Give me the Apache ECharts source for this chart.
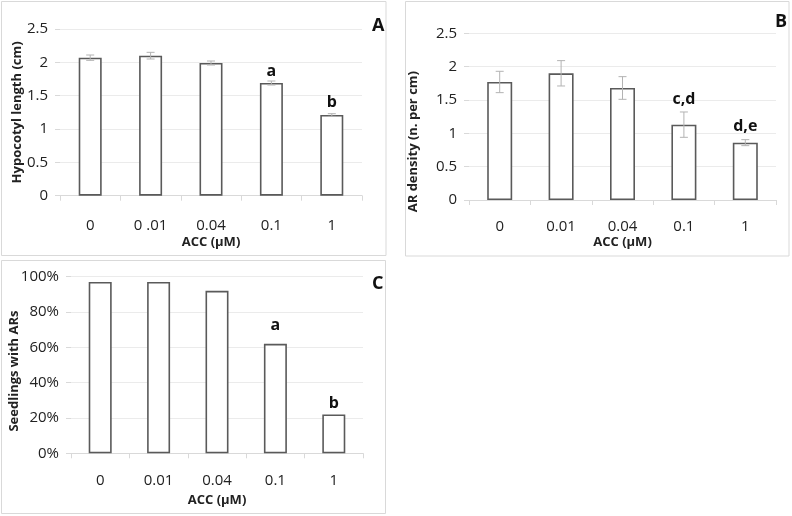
<!DOCTYPE html>
<html>
<head>
<meta charset="utf-8">
<script src="https://cdn.jsdelivr.net/npm/echarts@6/dist/echarts.min.js"></script>
<style>html,body{margin:0;padding:0;background:#fff}#c{width:792px;height:516px}</style>
</head>
<body>
<div id="c"></div>
<script>
// ---- data ----
var catsA = ['0', '0 .01', '0.04', '0.1', '1'];
var catsB = ['0', '0.01', '0.04', '0.1', '1'];
var catsC = ['0', '0.01', '0.04', '0.1', '1'];

var hypocotyl = [2.07, 2.10, 1.99, 1.69, 1.21];
var hypocotylErr = [0.04, 0.05, 0.03, 0.03, 0.02];
var lettersA = ['', '', '', 'a', 'b'];
var letterPosA = [null, null, null, 1.86, 1.40];

var arDensity = [1.77, 1.90, 1.68, 1.13, 0.86];
var arDensityErr = [0.16, 0.19, 0.17, 0.19, 0.045];
var lettersB = ['', '', '', 'c,d', 'd,e'];
var letterPosB = [null, null, null, 1.51, 1.10];

var seedlingsPct = [97, 97, 92, 62, 22];
var lettersC = ['', '', '', 'a', 'b'];
var letterPosC = [null, null, null, 72.5, 28];

var ticksA = [0, 0.5, 1, 1.5, 2, 2.5];
var ticksC = [0, 20, 40, 60, 80, 100];

// ---- styles ----
var FONT = "'Open Sans', 'Noto Sans', sans-serif";
var gridLineColor = '#ebebeb';
var axisColor = '#d9d9d9';

function xAxis(idx, cats, margin, gap) {
  return {
    type: 'category', gridIndex: idx, data: cats,
    name: 'ACC (\u00b5M)', nameLocation: 'middle', nameGap: gap,
    nameTextStyle: {fontFamily: FONT, fontWeight: 'bold', fontSize: 13, color: '#222'},
    axisLine: {lineStyle: {color: axisColor, width: 1}},
    axisTick: {show: true, length: 5, lineStyle: {color: axisColor}},
    axisLabel: {fontFamily: FONT, fontSize: 15, color: '#222', margin: margin},
    splitLine: {show: false}
  };
}
function yAxis(idx, name, max, interval, gap, fmt, pad) {
  return {
    type: 'value', gridIndex: idx, min: 0, max: max, interval: interval,
    name: name, nameLocation: 'middle', nameGap: gap, nameRotate: 90, nameMoveOverlap: false,
    nameTextStyle: {fontFamily: FONT, fontWeight: 'bold', fontSize: 13, color: '#222', padding: pad},
    axisLine: {show: false},
    axisTick: {show: true, length: 5, lineStyle: {color: axisColor}},
    axisLabel: {fontFamily: FONT, fontSize: 15, color: '#222', margin: 12, formatter: fmt},
    splitLine: {show: true, lineStyle: {color: gridLineColor, width: 1}}
  };
}
function barSeries(idx, data, w) {
  return {
    type: 'bar', xAxisIndex: idx, yAxisIndex: idx, data: data, barWidth: w,
    itemStyle: {color: '#ffffff', borderColor: '#5a5a5a', borderWidth: 1.6},
    silent: true, z: 2
  };
}
function errSeries(idx, vals, errs) {
  return {
    type: 'custom', xAxisIndex: idx, yAxisIndex: idx, silent: true, z: 3,
    data: vals.map(function (v, i) { return [i, v, errs[i]]; }),
    renderItem: function (params, api) {
      var x = api.value(0), v = api.value(1), e = api.value(2);
      var hi = api.coord([x, v + e]), lo = api.coord([x, v - e]);
      var cw = 4;
      var st = {stroke: '#b3b3b3', lineWidth: 1};
      return {type: 'group', children: [
        {type: 'line', shape: {x1: hi[0], y1: hi[1], x2: lo[0], y2: lo[1]}, style: st},
        {type: 'line', shape: {x1: hi[0] - cw, y1: hi[1], x2: hi[0] + cw, y2: hi[1]}, style: st},
        {type: 'line', shape: {x1: lo[0] - cw, y1: lo[1], x2: lo[0] + cw, y2: lo[1]}, style: st}
      ]};
    }
  };
}
function letterSeries(idx, letters, pos) {
  var d = [];
  letters.forEach(function (l, i) { if (l) d.push([i, pos[i], l]); });
  return {
    type: 'custom', xAxisIndex: idx, yAxisIndex: idx, silent: true, z: 4,
    data: d,
    renderItem: function (params, api) {
      var p = api.coord([api.value(0), api.value(1)]);
      return {type: 'text', x: p[0], y: p[1], style: {
        text: d[params.dataIndex][2], fontFamily: FONT, fontWeight: 'bold', fontSize: 16,
        fill: '#111', align: 'center', verticalAlign: 'middle'}};
    }
  };
}

var chart = echarts.init(document.getElementById('c'), null, {renderer: 'canvas'});
chart.setOption({
  animation: false,
  backgroundColor: '#fff',
  title: [
    {text: 'A', left: 367, top: 12, textStyle: {fontFamily: FONT, fontWeight: 'bold', fontSize: 18, color: '#111'}},
    {text: 'B', left: 770, top: 8, textStyle: {fontFamily: FONT, fontWeight: 'bold', fontSize: 18, color: '#111'}},
    {text: 'C', left: 367, top: 270, textStyle: {fontFamily: FONT, fontWeight: 'bold', fontSize: 18, color: '#111'}}
  ],
  graphic: [
    {type: 'rect', shape: {x: 1.5, y: 1.5, width: 384.5, height: 254}, style: {fill: 'none', stroke: '#d9d9d9', lineWidth: 1}, silent: true},
    {type: 'rect', shape: {x: 405.5, y: 1.5, width: 383.5, height: 254.5}, style: {fill: 'none', stroke: '#d9d9d9', lineWidth: 1}, silent: true},
    {type: 'rect', shape: {x: 1.5, y: 260.5, width: 384, height: 253}, style: {fill: 'none', stroke: '#d9d9d9', lineWidth: 1}, silent: true}
  ],
  grid: [
    {left: 60, right: 430, top: 29, bottom: 320.3},
    {left: 469, right: 16, top: 33.3, bottom: 316},
    {left: 71, right: 429, top: 276.7, bottom: 62.7}
  ],
  xAxis: [
    xAxis(0, catsA, 23, 40),
    xAxis(1, catsB, 19, 36),
    xAxis(2, catsC, 20, 40)
  ],
  yAxis: [
    yAxis(0, 'Hypocotyl length (cm)', ticksA[ticksA.length - 1], ticksA[1] - ticksA[0], 36, null, [0, 0, 0, 0]),
    yAxis(1, 'AR density (n. per cm)', ticksA[ticksA.length - 1], ticksA[1] - ticksA[0], 49, null, [0, 50, 0, 0]),
    yAxis(2, 'Seedlings with ARs', ticksC[ticksC.length - 1], ticksC[1] - ticksC[0], 50, '{value}%', [0, 12, 0, 0])
  ],
  series: [
    barSeries(0, hypocotyl, 23),
    errSeries(0, hypocotyl, hypocotylErr),
    letterSeries(0, lettersA, letterPosA),
    barSeries(1, arDensity, 25),
    errSeries(1, arDensity, arDensityErr),
    letterSeries(1, lettersB, letterPosB),
    barSeries(2, seedlingsPct, 23),
    letterSeries(2, lettersC, letterPosC)
  ]
});
</script>
</body>
</html>
